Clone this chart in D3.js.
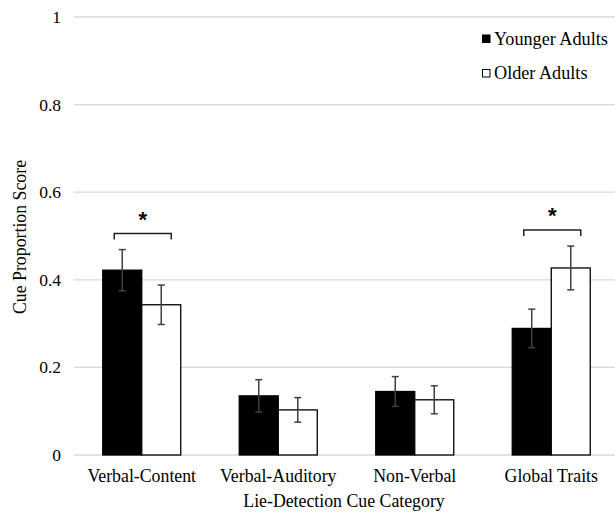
<!DOCTYPE html>
<html><head><meta charset="utf-8">
<script src="https://cdn.jsdelivr.net/npm/d3@7"></script>
<style>body{margin:0;background:#fff}svg{display:block}text{font-family:"Liberation Serif","Times New Roman",serif;fill:#000}</style>
</head><body><svg id="c" width="615" height="515"></svg>
<script>
const categories = ["Verbal-Content","Verbal-Auditory","Non-Verbal","Global Traits"];
const series = ["Younger Adults","Older Adults"];
const younger = [0.422, 0.135, 0.145, 0.289];
const older = [0.343, 0.103, 0.126, 0.427];
const youngerErr = [0.047, 0.037, 0.034, 0.044];
const olderErr = [0.045, 0.028, 0.032, 0.050];
const yTicks = [0, 0.2, 0.4, 0.6, 0.8, 1];
const yTickLabels = ["0","0.2","0.4","0.6","0.8","1"];
const significant = [true, false, false, true];

const svg = d3.select("#c");
const y = d3.scaleLinear().domain([0,1]).range([455,17]);
const x0 = d3.scaleBand().domain(categories).range([73.5,619.5]).padding(0);
const bw = 39;
const x1 = d3.scaleBand().domain(series).range([0, bw*2]);
const colors = {"Younger Adults":"#000","Older Adults":"#fff"};

// gridlines
svg.append("g").selectAll("line").data(yTicks).join("line")
  .attr("x1",74).attr("x2",615)
  .attr("y1",d=>y(d)).attr("y2",d=>y(d))
  .attr("stroke","#d9d9d9").attr("stroke-width",1.3);

// y tick labels
svg.append("g").selectAll("text").data(yTicks).join("text")
  .attr("x",61).attr("y",d=>y(d)+6).attr("text-anchor","end")
  .attr("font-size",17.5).text((d,i)=>yTickLabels[i]);

const data = [];
categories.forEach((c,i)=>{
  data.push({c, s:"Younger Adults", v:younger[i], e:youngerErr[i]});
  data.push({c, s:"Older Adults", v:older[i], e:olderErr[i]});
});
const gx = c => x0(c) + x0.bandwidth()/2 - bw;

svg.append("g").selectAll("rect").data(data).join("rect")
  .attr("x",d=>gx(d.c)+x1(d.s)).attr("width",x1.bandwidth())
  .attr("y",d=>y(d.v)).attr("height",d=>y(0)-y(d.v))
  .attr("fill",d=>colors[d.s]).attr("stroke","#000").attr("stroke-width",1.3);

// error bars
const eg = svg.append("g").attr("stroke","#404040").attr("stroke-width",1.5);
data.forEach(d=>{
  const cx = gx(d.c)+x1(d.s)+x1.bandwidth()/2;
  eg.append("line").attr("x1",cx).attr("x2",cx).attr("y1",y(d.v+d.e)).attr("y2",y(d.v-d.e));
  eg.append("line").attr("x1",cx-3.5).attr("x2",cx+3.5).attr("y1",y(d.v+d.e)).attr("y2",y(d.v+d.e));
  eg.append("line").attr("x1",cx-3.5).attr("x2",cx+3.5).attr("y1",y(d.v-d.e)).attr("y2",y(d.v-d.e));
});

// significance brackets
categories.forEach((c,i)=>{
  if(!significant[i]) return;
  const top = Math.max(younger[i]+youngerErr[i], older[i]+olderErr[i]);
  const by = y(top) - 16;
  const xl = gx(c)+x1.bandwidth()/2 - 8, xr = gx(c)+x1.bandwidth()*1.5 + 10;
  svg.append("path").attr("d",`M${xl},${by+6}V${by}H${xr}V${by+6}`)
    .attr("fill","none").attr("stroke","#222").attr("stroke-width",1.5);
  svg.append("text").attr("x",(xl+xr)/2).attr("y",by-7).attr("text-anchor","middle")
    .attr("font-size",22).attr("font-weight","bold")
    .style("font-family","'Liberation Sans',Arial,sans-serif").text("*");
});

// category labels
svg.append("g").selectAll("text").data(categories).join("text")
  .attr("x",c=>x0(c)+x0.bandwidth()/2).attr("y",482).attr("text-anchor","middle")
  .attr("font-size",17.8).text(c=>c);

svg.append("text").attr("x",344).attr("y",507).attr("text-anchor","middle")
  .attr("font-size",17.8).text("Lie-Detection Cue Category");
svg.append("text").attr("transform","translate(26,237) rotate(-90)").attr("text-anchor","middle")
  .attr("font-size",17.8).text("Cue Proportion Score");

// legend
const lg = svg.append("g");
series.forEach((s,i)=>{
  const ly = 38.5 + i*34.5;
  lg.append("rect").attr("x",482.5).attr("y",ly-3.5).attr("width",7.5).attr("height",7.5)
    .attr("fill",colors[s]).attr("stroke","#000").attr("stroke-width",1);
  lg.append("text").attr("x",494).attr("y",ly+6).attr("font-size",18.2).text(s);
});
</script></body></html>
